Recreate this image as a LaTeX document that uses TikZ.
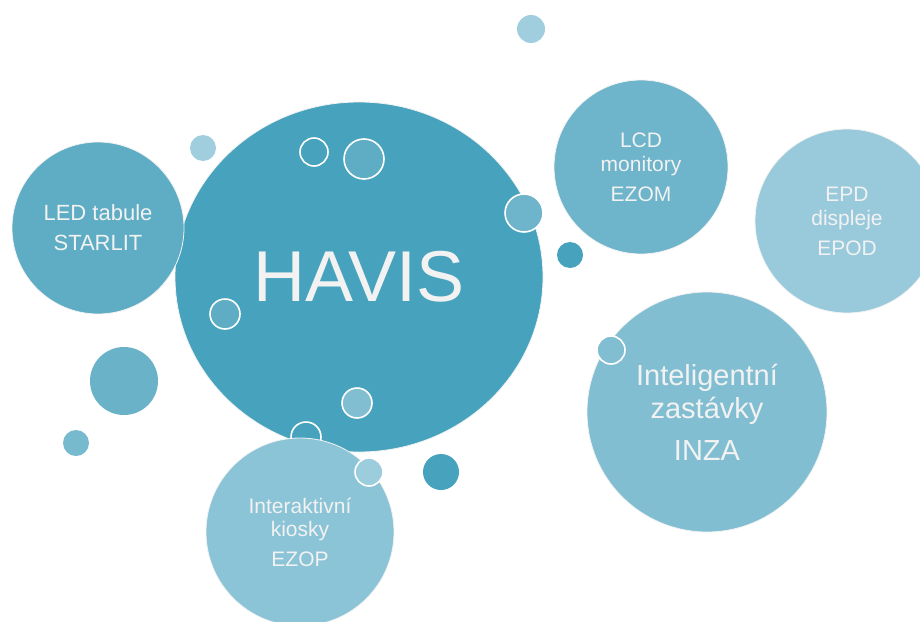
\documentclass[tikz,border=0pt]{standalone}
\usepackage{fontspec}
\setmainfont{Liberation Sans}
\usepackage{tikz}
\usepackage{xcolor}
\usetikzlibrary{shapes.geometric}

\definecolor{havisblue}{HTML}{47A3BD}
\definecolor{ledblue}{HTML}{5FADC4}
\definecolor{lcdblue}{HTML}{6EB4CA}
\definecolor{epdblue}{HTML}{99CADC}
\definecolor{inzablue}{HTML}{82BED2}
\definecolor{ezopblue}{HTML}{8BC4D7}
\definecolor{paleblue}{HTML}{A0CEDF}
\definecolor{midblue}{HTML}{6AB2C8}
\definecolor{smallblue}{HTML}{77B9CD}
\definecolor{softwhite}{HTML}{F2F2F2}

\begin{document}
\begin{tikzpicture}[x=1pt, y=-1pt,
    bubble/.style={circle, draw=softwhite, line width=0.8pt, inner sep=0pt, text=softwhite, align=center},
    ring/.style={circle, draw=white, line width=1.6pt, inner sep=0pt},
    dot/.style={circle, inner sep=0pt}]
        \useasboundingbox (0,0) rectangle (920,621);
        \clip (0,0) rectangle (920,621);
        % loose dots in the background
        \node[dot, fill=paleblue, minimum size=26] (d1) at (203,148) {};
        \node[dot, fill=paleblue, minimum size=28] (d2) at (531,29) {};
        \node[dot, fill=midblue, minimum size=68] (d3) at (124,381) {};
        \node[dot, fill=smallblue, minimum size=26] (d4) at (76,443) {};
        \node[dot, fill=havisblue, minimum size=26] (d5) at (570,255) {};
        \node[dot, fill=havisblue, minimum size=36] (d6) at (441,472) {};
        % centre
        \node[ellipse, draw=softwhite, line width=0.8pt, fill=havisblue, text=softwhite, minimum width=368, minimum height=350, inner sep=0pt, font=\fontsize{72}{80}\selectfont] (havis) at (359,277) {HAVIS};
        \node[ring, fill=havisblue, minimum size=28] (r1) at (314,152) {};
        \node[ring, fill=ledblue, minimum size=40] (r2) at (364,159) {};
        \node[ring, fill=lcdblue, minimum size=38] (r3) at (524,213) {};
        \node[ring, fill=ledblue, minimum size=30] (r4) at (225,314) {};
        \node[ring, fill=inzablue, minimum size=30] (r5) at (357,403) {};
        \node[ring, fill=havisblue, minimum size=30] (r6) at (306,437) {};
        % outer bubbles
        \node[bubble, fill=ledblue, minimum size=172, font=\fontsize{22}{24}\selectfont] (led) at (98,228) {LED tabule\\[6pt]STARLIT};
        \node[bubble, fill=lcdblue, minimum size=174, font=\fontsize{21}{24}\selectfont] (lcd) at (641,167) {LCD\\monitory\\[6pt]EZOM};
        \node[bubble, fill=epdblue, minimum size=184, font=\fontsize{21}{24}\selectfont] (epd) at (847,221) {EPD\\displeje\\[6pt]EPOD};
        \node[bubble, fill=inzablue, minimum size=240, font=\fontsize{29}{33}\selectfont] (inza) at (707,412) {Inteligentní\\zastávky\\[9pt]INZA};
        \node[bubble, fill=ezopblue, minimum size=188, font=\fontsize{21}{23}\selectfont] (ezop) at (300,532) {Interaktivní\\kiosky\\[7pt]EZOP};
        \node[ring, fill=ezopblue!85!white, minimum size=28] (r7) at (369,472) {};
        \node[ring, fill=inzablue, minimum size=28] (r8) at (611,350) {};
      \end{tikzpicture}
\end{document}
